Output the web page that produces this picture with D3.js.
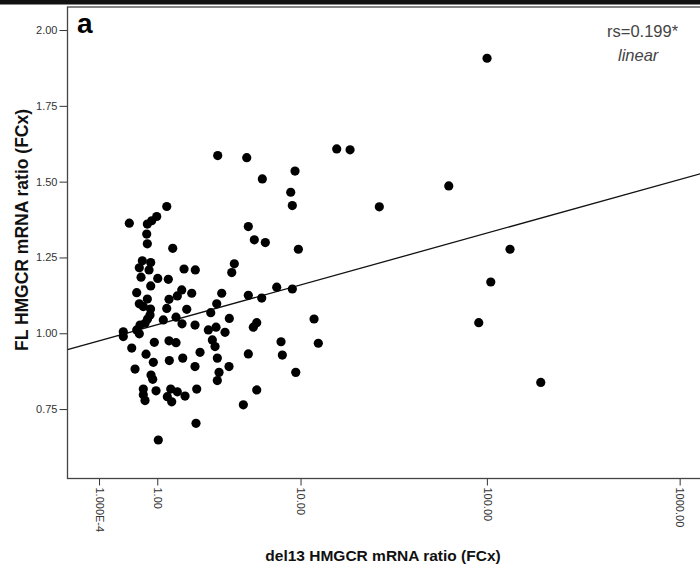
<!DOCTYPE html>
<html>
<head>
<meta charset="utf-8">
<script src="https://cdn.jsdelivr.net/npm/d3@7"></script>
<style>
  body { margin: 0; background: #fff; }
  svg { display: block; font-family: "Liberation Sans", Arial, sans-serif; }
</style>
</head>
<body>
<svg id="chart" width="700" height="570"></svg>
<script>
'use strict';

// del13 HMGCR mRNA ratio (FCx), x values
var delRatio = [
  1.239, 0.987, 0.872, 0.777, 0.434, 0.764, 0.777, 1.404, 0.674, 0.850,
  0.615, 0.813, 1.750, 2.145, 0.649, 1.011, 1.281, 0.850, 0.566, 1.676,
  1.539, 2.014, 1.300, 0.777, 0.615, 0.694, 1.239, 1.840, 0.835, 1.500,
  0.729, 0.629, 0.566, 0.335, 0.335, 2.134, 0.476, 0.931, 1.300, 1.500,
  0.750, 0.908, 1.308, 1.708, 0.535, 2.134, 0.857, 0.895, 0.694, 0.694,
  0.729, 0.971, 1.347, 1.539, 1.783, 1.254, 1.375, 2.198, 2.171, 1.025,
  0.781, 0.615, 0.846, 1.685, 1.149, 3.106, 4.799, 9.30, 5.981, 8.788,
  8.977, 4.910, 5.347, 6.234, 9.72, 4.003, 3.851, 3.306, 4.910, 7.286,
  8.977, 5.931, 3.058, 2.779, 3.714, 5.531, 5.271, 11.92, 2.672, 3.025,
  3.479, 2.851, 2.977, 7.721, 12.59, 2.327, 4.910, 7.857, 3.087, 3.697,
  3.171, 3.087, 9.39, 5.531, 4.569, 15.92, 18.83, 63.17, 27.09, 132.0,
  104.8, 90.68, 190.8, 100.2
];

// FL HMGCR mRNA ratio (FCx), y values
var flRatio = [
  1.418, 1.385, 1.371, 1.360, 1.363, 1.327, 1.295, 1.280, 1.239, 1.233,
  1.216, 1.209, 1.212, 1.209, 1.185, 1.181, 1.178, 1.156, 1.134, 1.143,
  1.123, 1.132, 1.112, 1.113, 1.097, 1.088, 1.082, 1.079, 1.060, 1.053,
  1.033, 1.027, 1.011, 1.005, 0.989, 1.027, 0.951, 0.970, 0.975, 0.969,
  0.931, 0.904, 0.910, 0.918, 0.882, 0.890, 0.862, 0.848, 0.816, 0.797,
  0.778, 0.810, 0.816, 0.807, 0.793, 0.791, 0.774, 0.816, 0.703, 0.648,
  1.047, 0.998, 1.080, 1.031, 1.044, 1.586, 1.579, 1.535, 1.509, 1.465,
  1.421, 1.352, 1.308, 1.299, 1.277, 1.229, 1.200, 1.132, 1.125, 1.152,
  1.146, 1.116, 1.097, 1.068, 1.049, 1.035, 1.020, 1.047, 1.011, 1.020,
  1.003, 0.978, 0.956, 0.972, 0.967, 0.937, 0.932, 0.928, 0.918, 0.890,
  0.871, 0.844, 0.871, 0.813, 0.764, 1.608, 1.605, 1.486, 1.417, 1.277,
  1.169, 1.035, 0.838, 1.907
];

var xTicks = [0.0001, 1, 10, 100, 1000];
var xTickLabels = ['1.000E-4', '1.00', '10.00', '100.00', '1000.00'];
var yTicks = [0.75, 1.00, 1.25, 1.50, 1.75, 2.00];

// linear fit, FL = a + b * log10(del13 + 1)
var fitIntercept = 0.9747;
var fitSlope = 0.1774;
var corrLabel = 'rs=0.199*';
var fitLabel = 'linear';

var svg = d3.select('#chart');
var plotLeft = 67.5, plotRight = 720, plotTop = 7, plotBottom = 478.5;

var x = d3.scaleSymlog().constant(1)
  .domain([-0.455, 1617])
  .range([plotLeft, plotRight]);

var y = d3.scaleLinear()
  .domain([0.521, 2.076])
  .range([plotBottom, plotTop]);

// black rule across the top
svg.append('rect')
  .attr('x', 0).attr('y', 0)
  .attr('width', 700).attr('height', 4.5)
  .attr('fill', '#111');

svg.append('clipPath').attr('id', 'plot-clip')
  .append('rect')
  .attr('x', plotLeft).attr('y', plotTop)
  .attr('width', plotRight - plotLeft).attr('height', plotBottom - plotTop);

// y axis
var yAxis = svg.append('g')
  .attr('transform', 'translate(' + plotLeft + ',0)')
  .call(d3.axisLeft(y).tickValues(yTicks).tickFormat(d3.format('.2f'))
    .tickSize(8).tickSizeOuter(0));
yAxis.select('.domain').remove();
yAxis.selectAll('line').attr('stroke', '#333');
yAxis.selectAll('text')
  .attr('x', -10)
  .attr('fill', '#333')
  .style('font-size', '11px')
  .style('font-family', '"Liberation Sans", Arial, sans-serif');

// x axis
var xAxis = svg.append('g')
  .attr('transform', 'translate(0,' + plotBottom + ')')
  .call(d3.axisBottom(x).tickValues(xTicks)
    .tickFormat(function(d, i) { return xTickLabels[i]; })
    .tickSize(7).tickSizeOuter(0));
xAxis.select('.domain').remove();
xAxis.selectAll('line').attr('stroke', '#333');
xAxis.selectAll('text')
  .attr('transform', 'rotate(90)')
  .attr('x', 9)
  .attr('y', 0)
  .attr('dy', '0.35em')
  .attr('text-anchor', 'start')
  .attr('fill', '#333')
  .style('font-size', '11px')
  .style('font-family', '"Liberation Sans", Arial, sans-serif');

// plot frame
svg.append('rect')
  .attr('x', plotLeft).attr('y', plotTop)
  .attr('width', plotRight - plotLeft).attr('height', plotBottom - plotTop)
  .attr('fill', 'none')
  .attr('stroke', '#444')
  .attr('stroke-width', 1.3);

// fit line, straight on the log(x+1) axis
function fitAt(v) {
  var t = Math.sign(v) * Math.log10(1 + Math.abs(v));
  return fitIntercept + fitSlope * t;
}
var xDom = x.domain();
svg.append('line')
  .attr('clip-path', 'url(#plot-clip)')
  .attr('x1', x(xDom[0])).attr('y1', y(fitAt(xDom[0])))
  .attr('x2', x(xDom[1])).attr('y2', y(fitAt(xDom[1])))
  .attr('stroke', '#111')
  .attr('stroke-width', 1.3);

// points
svg.append('g')
  .attr('clip-path', 'url(#plot-clip)')
  .selectAll('circle')
  .data(d3.range(delRatio.length))
  .enter().append('circle')
  .attr('cx', function(i) { return x(delRatio[i]); })
  .attr('cy', function(i) { return y(flRatio[i]); })
  .attr('r', 4.6)
  .attr('fill', '#000');

// panel letter and annotations
svg.append('text')
  .attr('x', 77).attr('y', 33)
  .style('font-size', '28px')
  .style('font-weight', 'bold')
  .attr('fill', '#000')
  .text('a');

svg.append('text')
  .attr('x', 607).attr('y', 37)
  .style('font-size', '16.5px')
  .attr('fill', '#444')
  .text(corrLabel);

svg.append('text')
  .attr('x', 618).attr('y', 61)
  .style('font-size', '16.5px')
  .style('font-style', 'italic')
  .attr('fill', '#444')
  .text(fitLabel);

// axis titles
svg.append('text')
  .attr('transform', 'translate(28,230) rotate(-90)')
  .attr('text-anchor', 'middle')
  .style('font-size', '17.5px')
  .style('font-weight', 'bold')
  .attr('fill', '#111')
  .text('FL HMGCR mRNA ratio (FCx)');

svg.append('text')
  .attr('x', 383).attr('y', 561)
  .attr('text-anchor', 'middle')
  .style('font-size', '15.5px')
  .style('font-weight', 'bold')
  .attr('fill', '#111')
  .text('del13 HMGCR mRNA ratio (FCx)');
</script>
</body>
</html>
